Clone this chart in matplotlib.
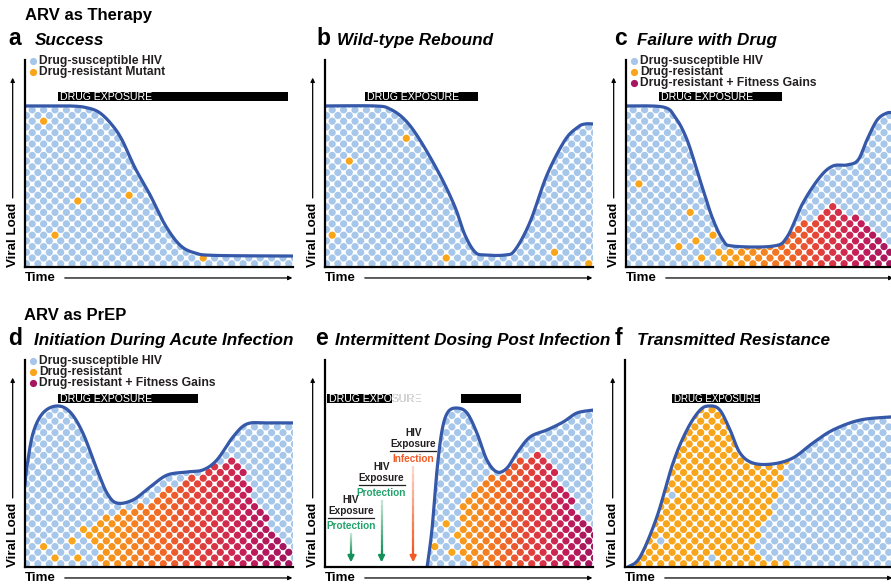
import matplotlib
matplotlib.use('Agg')
import matplotlib.pyplot as plt
import numpy as np
from matplotlib.patches import Polygon, Rectangle
from matplotlib.path import Path
from matplotlib.colors import LinearSegmentedColormap, Normalize

plt.rcParams['font.family'] = ['Liberation Sans', 'DejaVu Sans']

# ---- data (time and viral load on a 0-100 scale per panel) ----
a_time = [0, 16.8, 23.5, 28, 32.5, 36.2, 41, 46.6, 52.2, 57.8, 63.4, 70.9, 100]
a_load = [77.8, 77.8, 76.8, 74.4, 68.6, 61.4, 48, 35, 20.5, 10.6, 6.8, 5.6, 5.3]
a_mut_t = [6, 19.8, 39.2, 10.1, 66]
a_mut_v = [71.5, 32.9, 35.7, 15, 2.9]

b_time = [0, 18.7, 24.3, 29.9, 35.4, 42.9, 48.5, 52.2, 56, 59.7, 67.2, 70.9, 76.5, 82.8, 89.6, 94.4, 97, 100]
b_load = [77.8, 77.8, 76.3, 71, 61.4, 44.4, 29, 15.5, 7.2, 5.8, 5.8, 8.2, 21.7, 44.4, 61.4, 67.6, 69.1, 69.1]
b_mut_t = [29.9, 7.8, 1.5, 44.4, 85.8, 98.5]
b_mut_v = [62.3, 50.2, 14.5, 2.9, 5.8, 0.5]

c_time = [0, 13.8, 18.3, 22.8, 27.6, 32.1, 36.2, 39.9, 54.9, 60.1, 66, 72.4, 77.2, 82.5, 86.6, 89.9, 93.7, 97.4, 100]
c_load = [77.8, 77.3, 72.5, 61.4, 42, 24.2, 13, 10.1, 10.1, 14.5, 30.9, 43.5, 48.8, 49.3, 51.7, 61.4, 71, 74.4, 74.4]
c_mut_t = [4.9, 23.5, 18.7, 25.4, 26.9, 32.1, 34]
c_mut_v = [41.1, 26.6, 9.2, 11.6, 3.4, 14.5, 5.8]
c_res_t = [35.8, 35.8, 42.5, 57.5, 77.2, 98.9, 102, 102]
c_res_v = [-2, 8.2, 10.1, 13, 31.4, 11.6, 11.6, -2]

d_time = [0, 0.7, 3, 6.7, 11.9, 16.8, 21.6, 26.9, 30.6, 34.3, 40.3, 46.6, 53, 60.4, 66.4, 71.6, 77.6, 82.8, 90.3, 100]
d_load = [39.6, 48.3, 64.7, 74.4, 77.8, 74.9, 64.7, 46.9, 35.7, 30.9, 32.4, 38.6, 44.4, 45.9, 46.9, 51.7, 62.8, 69.1, 69.6, 69.6]
d_mut_t = [5.6, 11.9, 18.7, 21.3, 19.4]
d_mut_v = [9.2, 5.8, 3.4, 16.9, 12.6]
d_res_t = [31, 27, 22, 22, 28, 41.8, 48.5, 55.2, 64.2, 70.1, 76.5, 80.2, 87.7, 95.1, 100.7, 100.7]
d_res_v = [-2, 6, 14, 19, 23, 28.5, 33.8, 39.6, 44, 50.2, 52.2, 48.8, 29, 13, 3.4, -2]

e_time = [38.1, 39.9, 41.8, 43.7, 45.9, 49.3, 53, 56.7, 60.4, 64.2, 67.9, 71.6, 76.5, 82.8, 88.8, 94, 100]
e_load = [0, 17.9, 46.9, 66.2, 74.9, 76.8, 74.4, 64.7, 51.7, 45.9, 47.8, 55.1, 62.8, 66.2, 70, 74.4, 75.8]
e_mut_t = [44.8, 40.3, 46.6, 49.3]
e_mut_v = [21.3, 9.2, 7.2, 13]
e_res_t = [53, 50.4, 49.3, 50.4, 51.5, 55.2, 60.4, 65.3, 71.6, 76.5, 80.2, 85.1, 90.3, 95.1, 100, 102.6, 102.6]
e_res_v = [-2, 9.7, 17.9, 24.2, 30.9, 37.2, 42, 45.4, 50.7, 54.1, 54.1, 48.3, 37.2, 26.1, 16.4, 16.4, -2]
e_expo_t = [9.7, 21.1, 32.9]
e_expo_v = [32.4, 48.3, 64.7]
e_outcome = ['Protection', 'Protection', 'Infection']

f_time = [1.1, 5.6, 11.9, 17.9, 23.1, 28, 31.7, 35.4, 39.2, 42.9, 47.8, 55.2, 62.7, 70.1, 77.6, 87.7, 99.3, 100]
f_load = [0, 4.8, 24.2, 50.2, 66.2, 75.8, 77.8, 75.8, 66.2, 55.1, 50.2, 49.8, 52.7, 59.9, 66.2, 71, 72.5, 72.5]
f_res_t = [-2, -2, 62.5, 61.6, 59, 56.7, 54.1, 50.4, 47.8, 50.4, 63.4, 64, -2]
f_res_v = [-2, 100, 100, 51.7, 42, 32.4, 26.1, 17.9, 9.7, 4.8, 1, -2, -2]
f_wild_t = [18.3, 12.7, 31.7]
f_wild_v = [35.3, 12.1, 3.4]

a_bars = [(12.3, 98.1)]
b_bars = [(14.9, 57.1)]
c_bars = [(12.3, 58.2)]
d_bars = [(12.3, 64.6)]
e_bars = [(0.7, 25), (50.7, 73.1)]
f_bars = [(17.5, 50.4)]

legend2 = ['Drug-susceptible HIV', 'Drug-resistant Mutant']
legend3 = ['Drug-susceptible HIV', 'Drug-resistant', 'Drug-resistant + Fitness Gains']

# ---- styling ----
W, H = 891, 586
AX_W, AX_H = 268, 207
BLUE = '#A7C7EA'
LINE = '#3558A8'
ORANGE = '#F9A51B'
MAGENTA = '#A8155F'
GREEN = '#14915A'
RED = '#F15A24'
grad = LinearSegmentedColormap.from_list(
    'res', ['#F9A51B', '#F58A1F', '#F06526', '#DF3A3F', '#C41D5A', '#A3155F'])


def smooth(x, y, n=16):
    pts = np.column_stack([x, y]).astype(float)
    P = np.vstack([pts[0], pts, pts[-1]])
    out = []
    s = np.linspace(0, 1, n, endpoint=False)[:, None]
    for i in range(1, len(P) - 2):
        p0, p1, p2, p3 = P[i - 1], P[i], P[i + 1], P[i + 2]
        out.append(0.5 * (2 * p1 + (-p0 + p2) * s + (2 * p0 - 5 * p1 + 4 * p2 - p3) * s ** 2
                          + (-p0 + 3 * p1 - 3 * p2 + p3) * s ** 3))
    out.append(pts[-1:])
    return np.vstack(out)


fig = plt.figure(figsize=(W / 100, H / 100), dpi=100)


def ftext(x, y, s, **kw):
    fig.text(x / W, 1 - y / H, s, **kw)


def make_ax(left, bottom):
    ax = fig.add_axes([left / W, 1 - bottom / H, AX_W / W, AX_H / H])
    ax.set_xlim(0, 100)
    ax.set_ylim(0, 100)
    ax.set_xticks([])
    ax.set_yticks([])
    for sp in ['top', 'right']:
        ax.spines[sp].set_visible(False)
    for sp in ['left', 'bottom']:
        ax.spines[sp].set_linewidth(1.6)
        ax.spines[sp].set_zorder(6)
    ax.patch.set_alpha(0)
    # axis labels with arrows
    ax.text(-4.6, 15.5, 'Viral Load', rotation=90, ha='center', va='center',
            fontsize=9.6, weight='bold', clip_on=False)
    ax.annotate('', xy=(-4.6, 92.8), xytext=(-4.6, 32), annotation_clip=False,
                arrowprops=dict(arrowstyle='-|>', lw=0.9, color='k', mutation_scale=6))
    ax.text(0, -5.3, 'Time', ha='left', va='center', fontsize=9.6, weight='bold', clip_on=False)
    ax.annotate('', xy=(100.8, -5.3), xytext=(13.8, -5.3), annotation_clip=False,
                arrowprops=dict(arrowstyle='-|>', lw=0.9, color='k', mutation_scale=6))
    return ax


def panel(ax, time, load, mut=None, region=None, gnorm=None, wild=None, bars=(), bar_fs=7.6):
    curve = smooth(time, load)
    verts = np.vstack([[curve[0, 0], -1], curve, [curve[-1, 0], -1]])
    clip = Polygon(verts, closed=True, facecolor='none', edgecolor='none')
    ax.add_patch(clip)
    # dot lattice (checkerboard, 5.7 px pitch)
    p = 5.7
    gx = np.arange(0, AX_W + 2 * p, p)
    gy = np.arange(3.3, AX_H, p)
    X, Y = np.meshgrid(np.arange(len(gx)), np.arange(len(gy)))
    keep = (X + Y) % 2 == 0
    px = gx[X[keep]] + 1.5
    py = gy[Y[keep]]
    dt = px / AX_W * 100
    dv = py / AX_H * 100
    cols = np.array([matplotlib.colors.to_rgba(BLUE)] * len(dt))
    if region is not None:
        inside = Path(np.column_stack(region)).contains_points(np.column_stack([dt, dv]))
        if gnorm is None:
            cols[inside] = matplotlib.colors.to_rgba(ORANGE)
        else:
            cols[inside] = grad(Normalize(*gnorm, clip=True)(dt[inside]))

    def snap(ts, vs, c):
        for t, v in zip(ts, vs):
            k = np.argmin(((dt - t) * AX_W) ** 2 + ((dv - v) * AX_H) ** 2)
            cols[k] = matplotlib.colors.to_rgba(c)

    if mut is not None:
        snap(*mut, ORANGE)
    if wild is not None:
        snap(*wild, BLUE)
    sc = ax.scatter(dt, dv, s=27, c=cols, linewidths=0, zorder=2)
    sc.set_clip_path(clip)
    ax.plot(curve[:, 0], curve[:, 1], color=LINE, lw=2.3, zorder=4,
            solid_capstyle='round', solid_joinstyle='round')
    v0, v1 = (80, 84.5) if ax.get_position().y0 > 0.4 else (79.2, 83.6)
    for i, (t0, t1) in enumerate(bars):
        r = Rectangle((t0, v0), t1 - t0, v1 - v0, facecolor='black', edgecolor='none',
                      zorder=5, clip_on=False)
        ax.add_patch(r)
        if i == 0:
            ax.text(t0 + 0.8, (v0 + v1) / 2, 'DRUG EXPOSURE', color='#333333', fontsize=bar_fs,
                    ha='left', va='center', zorder=5, clip_on=False)
            tw = ax.text(t0 + 0.8, (v0 + v1) / 2, 'DRUG EXPOSURE', color='white', fontsize=bar_fs,
                         ha='left', va='center', zorder=6)
            tw.set_clip_path(r)


def legend(ax, labels, colors):
    for i, (lab, c) in enumerate(zip(labels, colors)):
        v = 99.5 - 5.3 * i
        ax.scatter([3], [v], s=27, color=c, linewidths=0, clip_on=False, zorder=6)
        ax.text(5.2, v, lab, fontsize=8.7, weight='bold', ha='left', va='center',
                color='#231F20', clip_on=False)


# headers
ftext(25, 20, 'ARV as Therapy', fontsize=12, weight='bold')
ftext(24, 320, 'ARV as PrEP', fontsize=12, weight='bold')
letters = [(8, 45, 'a', 35, 'Success'), (316, 45, 'b', 337, 'Wild-type Rebound'),
           (614, 45, 'c', 637, 'Failure with Drug'), (8, 345, 'd', 34, 'Initiation During Acute Infection'),
           (315, 345, 'e', 335, 'Intermittent Dosing Post Infection'), (615, 345, 'f', 637, 'Transmitted Resistance')]
for lx, ly, l, tx, title in letters:
    ftext(lx, ly, l, fontsize=16.5, weight='bold', va='baseline')
    ftext(tx, ly, title, fontsize=12.3, weight='bold', style='italic', va='baseline')

# panels
ax = make_ax(25, 267)
panel(ax, a_time, a_load, mut=(a_mut_t, a_mut_v), bars=a_bars)
legend(ax, legend2, [BLUE, ORANGE])

ax = make_ax(325, 267)
panel(ax, b_time, b_load, mut=(b_mut_t, b_mut_v), bars=b_bars)

ax = make_ax(626, 267)
panel(ax, c_time, c_load, mut=(c_mut_t, c_mut_v), region=(c_res_t, c_res_v), gnorm=(36, 100), bars=c_bars)
legend(ax, legend3, [BLUE, ORANGE, MAGENTA])

ax = make_ax(25, 567)
panel(ax, d_time, d_load, mut=(d_mut_t, d_mut_v), region=(d_res_t, d_res_v), gnorm=(22, 98), bars=d_bars)
legend(ax, legend3, [BLUE, ORANGE, MAGENTA])

ax = make_ax(325, 567)
panel(ax, e_time, e_load, mut=(e_mut_t, e_mut_v), region=(e_res_t, e_res_v), gnorm=(46, 100), bars=e_bars)
for t, v, outcome in zip(e_expo_t, e_expo_v, e_outcome):
    c = GREEN if outcome == 'Protection' else RED
    tc = '#21A36B' if outcome == 'Protection' else RED
    ax.text(t, v, 'HIV', fontsize=7.2, weight='bold', ha='center', va='center', color='#231F20')
    ax.text(t, v - 5.4, 'Exposure', fontsize=7.2, weight='bold', ha='center', va='center', color='#231F20')
    ax.plot([t - 8.6, t + 8.6], [v - 8.9, v - 8.9], color='#231F20', lw=0.9)
    ax.text(t, v - 12.4, outcome, fontsize=7.2, weight='bold', ha='center', va='center', color=tc)
    top = v - 16
    ys = np.linspace(top, 6, 12)
    for k in range(len(ys) - 1):
        ax.plot([t, t], [ys[k], ys[k + 1]], color=c, lw=1.6, alpha=0.25 + 0.75 * k / (len(ys) - 2),
                solid_capstyle='butt')
    ax.annotate('', xy=(t, 0.9), xytext=(t, 6.5),
                arrowprops=dict(arrowstyle='-|>', color=c, lw=1.6, mutation_scale=9))

ax = make_ax(625, 567)
panel(ax, f_time, f_load, region=(f_res_t, f_res_v), wild=(f_wild_t, f_wild_v), bars=f_bars, bar_fs=7.0)

fig.savefig('out.png', dpi=100)
